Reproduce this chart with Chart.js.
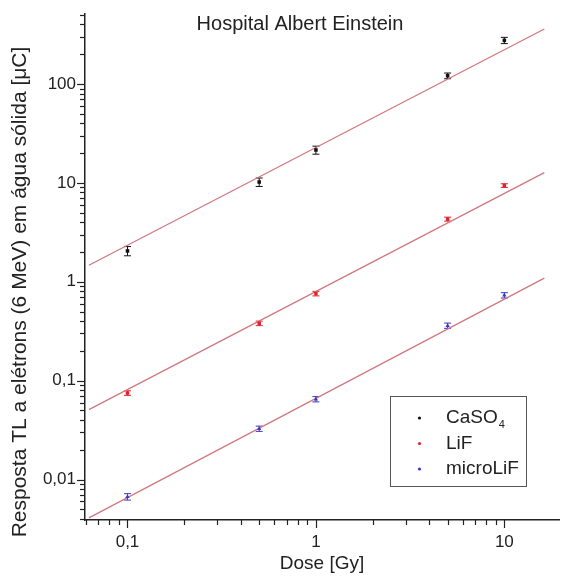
<!DOCTYPE html>
<html>
<head>
<meta charset="utf-8">
<script src="https://cdn.jsdelivr.net/npm/chart.js@4"></script>
<style>
  html, body { margin: 0; padding: 0; background: #fff; }
</style>
</head>
<body>
<canvas id="doseChart" width="563" height="583"></canvas>
<script>
// Dose points [Gy]
const doses = [0.1, 0.5, 1, 5, 10];

// TL response [uC]
const caso4 = [2.05, 10.2, 21.5, 121, 276];
const caso4Err = [0.22, 1.0, 2.0, 8, 20];
const lif = [0.075, 0.38, 0.76, 4.3, 9.4];
const lifErr = [0.004, 0.02, 0.04, 0.2, 0.4];
const microLif = [0.0067, 0.0327, 0.065, 0.36, 0.73];
const microLifErr = [0.0005, 0.002, 0.004, 0.022, 0.045];

// Fitted lines (end points)
const fitX = [0.0624, 16.3];
const caso4Fit = [1.47, 360];
const lifFit = [0.051, 12.7];
const microLifFit = [0.0041, 1.09];

// Axis ranges
const xRange = [0.0595, 19.5];
const yRange = [0.0039, 510];

const FONT = "'Liberation Sans', Arial, sans-serif";
const INK = '#222';
const FIT_COLOR = '#d07880';

function toPoints(xs, ys) {
    return xs.map((x, i) => ({ x: x, y: ys[i] }));
}

function decadeLabel(v) {
    const l = Math.log10(v);
    if (Math.abs(l - Math.round(l)) > 1e-6) return '';
    return String(+v.toPrecision(3)).replace('.', ',');
}

// error bars under the markers
const errorBars = {
    id: 'errorBars',
    beforeDatasetsDraw(chart) {
        const ctx = chart.ctx;
        const xs = chart.scales.x, ys = chart.scales.y;
        chart.data.datasets.forEach(ds => {
            if (!ds.errors) return;
            ctx.save();
            ctx.strokeStyle = ds.borderColor;
            ctx.lineWidth = 1;
            ds.data.forEach((p, i) => {
                const e = ds.errors[i];
                const px = xs.getPixelForValue(p.x);
                const top = ys.getPixelForValue(p.y + e);
                const bot = ys.getPixelForValue(p.y - e);
                ctx.beginPath();
                ctx.moveTo(px, top); ctx.lineTo(px, bot);
                ctx.moveTo(px - 3.5, top); ctx.lineTo(px + 3.5, top);
                ctx.moveTo(px - 3.5, bot); ctx.lineTo(px + 3.5, bot);
                ctx.stroke();
            });
            ctx.restore();
        });
    }
};

// Origin-like outward log ticks, title, rotated y label and legend box
const decorations = {
    id: 'decorations',
    afterDraw(chart) {
        const ctx = chart.ctx;
        const area = chart.chartArea;
        ctx.save();
        ctx.strokeStyle = INK;
        ctx.lineWidth = 1.2;

        [chart.scales.x, chart.scales.y].forEach(scale => {
            const horizontal = scale.isHorizontal();
            const lo = Math.floor(Math.log10(scale.min));
            const hi = Math.ceil(Math.log10(scale.max));
            for (let e = lo; e <= hi; e++) {
                for (let d = 1; d <= 9; d++) {
                    const v = d * Math.pow(10, e);
                    if (v < scale.min || v > scale.max) continue;
                    const p = Math.round(scale.getPixelForValue(v)) + 0.5;
                    const len = d === 1 ? 8 : 5;
                    ctx.beginPath();
                    if (horizontal) {
                        ctx.moveTo(p, area.bottom);
                        ctx.lineTo(p, area.bottom + len);
                    } else {
                        ctx.moveTo(area.left, p);
                        ctx.lineTo(area.left - len, p);
                    }
                    ctx.stroke();
                }
            }
        });

        ctx.fillStyle = INK;
        ctx.textBaseline = 'middle';

        // title inside the plot
        ctx.font = '20px ' + FONT;
        ctx.textAlign = 'center';
        ctx.fillText('Hospital Albert Einstein', 300, 24);

        // y title
        ctx.save();
        ctx.translate(20, 292);
        ctx.rotate(-Math.PI / 2);
        ctx.font = '21px ' + FONT;
        ctx.fillText('Resposta TL a elétrons (6 MeV) em água sólida [μC]', 0, 0);
        ctx.restore();

        // legend
        ctx.strokeStyle = '#555';
        ctx.lineWidth = 1;
        ctx.strokeRect(390.5, 396.5, 136, 90);
        const entries = chart.data.datasets.filter(ds => ds.errors);
        entries.forEach((ds, i) => {
            const y = 418 + i * 25.5;
            ctx.fillStyle = ds.borderColor;
            ctx.beginPath();
            ctx.arc(419.5, y, 1.6, 0, Math.PI * 2);
            ctx.fill();
            ctx.fillStyle = INK;
            ctx.textAlign = 'left';
            ctx.font = '19px ' + FONT;
            if (ds.label === 'CaSO4') {
                ctx.fillText('CaSO', 446, y);
                const w = ctx.measureText('CaSO').width;
                ctx.font = '11px ' + FONT;
                ctx.fillText('4', 446 + w + 1, y + 7);
            } else {
                ctx.fillText(ds.label, 446, y);
            }
        });
        ctx.restore();
    }
};

function seriesSet(label, ys, errs, color, style) {
    return {
        label: label,
        data: toPoints(doses, ys),
        errors: errs,
        borderColor: color,
        backgroundColor: color,
        pointStyle: style,
        pointRadius: 2.5,
        pointBorderWidth: 0,
        showLine: false
    };
}

function fitSet(ys) {
    return {
        label: 'fit',
        data: toPoints(fitX, ys),
        borderColor: FIT_COLOR,
        borderWidth: 1.3,
        pointRadius: 0,
        showLine: true,
        fill: false
    };
}

function logAxis(range, title) {
    return {
        type: 'logarithmic',
        min: range[0],
        max: range[1],
        grid: { display: false, drawTicks: true, tickLength: 8 },
        border: { display: true, color: INK, width: 1.5 },
        ticks: {
            autoSkip: false,
            maxRotation: 0,
            color: INK,
            font: { family: FONT, size: 17 },
            callback: v => decadeLabel(v)
        },
        title: title
    };
}

const xAxis = logAxis(xRange, {
    display: true,
    text: 'Dose [Gy]',
    color: INK,
    font: { family: FONT, size: 19 },
    padding: { top: 0, bottom: 8 }
});
xAxis.position = 'bottom';
xAxis.ticks.padding = 4;
xAxis.afterFit = s => { s.height = 63; };

const yAxis = logAxis(yRange, { display: false });
yAxis.position = 'left';
yAxis.ticks.padding = 1;
yAxis.afterFit = s => { s.width = 85; };

new Chart(document.getElementById('doseChart').getContext('2d'), {
    type: 'scatter',
    data: {
        datasets: [
            seriesSet('CaSO4', caso4, caso4Err, '#111111', 'rect'),
            seriesSet('LiF', lif, lifErr, '#e4222c', 'rect'),
            seriesSet('microLiF', microLif, microLifErr, '#3b36c8', 'triangle'),
            fitSet(caso4Fit),
            fitSet(lifFit),
            fitSet(microLifFit)
        ]
    },
    options: {
        responsive: false,
        animation: false,
        devicePixelRatio: 1,
        layout: { padding: { top: 14, right: 0, bottom: 0, left: 0 } },
        plugins: {
            legend: { display: false },
            tooltip: { enabled: false }
        },
        scales: { x: xAxis, y: yAxis }
    },
    plugins: [errorBars, decorations]
});
</script>
</body>
</html>
